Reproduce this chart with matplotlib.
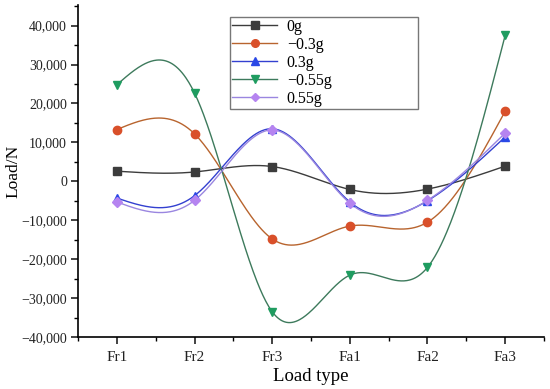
import numpy as np
import matplotlib
matplotlib.use("Agg")
from matplotlib import pyplot as plt
from matplotlib.ticker import FuncFormatter, MultipleLocator

plt.rcParams['font.family'] = ['Liberation Serif', 'DejaVu Serif']

# Data
categories = ['Fr1', 'Fr2', 'Fr3', 'Fa1', 'Fa2', 'Fa3']
load_0g = [2600, 2400, 3800, -2100, -2000, 3900]
load_m03g = [13300, 12200, -14800, -11500, -10500, 18000]
load_03g = [-4300, -3700, 13500, -5300, -5000, 11400]
load_m055g = [24800, 22700, -33500, -24100, -22100, 37500]
load_055g = [-5300, -4900, 13200, -5600, -4900, 12400]


def natural_spline(x, y, xs):
    # natural cubic spline, like Origin's spline connection
    x = np.asarray(x, float)
    y = np.asarray(y, float)
    n = len(x)
    h = np.diff(x)
    A = np.zeros((n, n))
    b = np.zeros(n)
    A[0, 0] = 1
    A[-1, -1] = 1
    for i in range(1, n - 1):
        A[i, i - 1] = h[i - 1]
        A[i, i] = 2 * (h[i - 1] + h[i])
        A[i, i + 1] = h[i]
        b[i] = 3 * ((y[i + 1] - y[i]) / h[i] - (y[i] - y[i - 1]) / h[i - 1])
    c = np.linalg.solve(A, b)
    out = np.zeros_like(xs)
    for k, xv in enumerate(xs):
        i = min(np.searchsorted(x, xv, side='right') - 1, n - 2)
        i = max(i, 0)
        dx = xv - x[i]
        bi = (y[i + 1] - y[i]) / h[i] - h[i] * (2 * c[i] + c[i + 1]) / 3
        di = (c[i + 1] - c[i]) / (3 * h[i])
        out[k] = y[i] + bi * dx + c[i] * dx ** 2 + di * dx ** 3
    return out


series = [
    ('0g', load_0g, 's', '#3c3c3c', '#3c3c3c'),
    ('\u22120.3g', load_m03g, 'o', '#b8642e', '#d9502a'),
    ('0.3g', load_03g, '^', '#3340d0', '#2a48e6'),
    ('\u22120.55g', load_m055g, 'v', '#3d7a5c', '#1f9c60'),
    ('0.55g', load_055g, 'D', '#9a86e0', '#b584f0'),
]

x = np.arange(1, len(categories) + 1)
xs = np.linspace(1, len(categories), 400)

fig = plt.figure(figsize=(5.5, 3.89), dpi=100)
ax = fig.add_axes([78 / 550, 1 - 337 / 389, (544 - 78) / 550, (337 - 5) / 389])

for label, vals, mk, lc, mc in series:
    ax.plot(xs, natural_spline(x, vals, xs), color=lc, lw=1.0, zorder=2)
    ax.plot(x, vals, linestyle='none', marker=mk, color=mc,
            markersize=6 if mk != 'D' else 5, zorder=3)
    ax.plot([], [], color=lc, lw=1.0, marker=mk, markerfacecolor=mc,
            markeredgecolor=mc, markersize=5.5 if mk != 'D' else 4.5, label=label)

ax.set_xlim(0.5, 6.5)
ax.set_ylim(-40000, 45300)
ax.set_xticks(x)
ax.set_xticklabels(categories)
ax.xaxis.set_minor_locator(MultipleLocator(0.5))
ax.yaxis.set_major_locator(MultipleLocator(10000))
ax.yaxis.set_minor_locator(MultipleLocator(5000))
ax.yaxis.set_major_formatter(FuncFormatter(
    lambda v, p: ('\u2212' if v < 0 else '') + f'{abs(int(v)):,}'))

for s in ['top', 'right']:
    ax.spines[s].set_visible(False)
for s in ['left', 'bottom']:
    ax.spines[s].set_linewidth(1.2)
ax.tick_params(which='major', direction='out', length=5, width=1.2,
               labelsize=10, pad=3, colors='#222222')
ax.tick_params(axis='x', which='major', labelsize=11, pad=5)
ax.tick_params(which='minor', direction='out', length=3, width=1.0)

ax.set_xlabel('Load type', fontsize=13.5, labelpad=3)
ax.set_ylabel('Load/N', fontsize=12.5)
ax.yaxis.set_label_coords((21 - 78) / 466, 0.5)

leg = ax.legend(loc='upper left',
                bbox_to_anchor=((230 - 78) / 466, 1 - 15 / 332, (418 - 230) / 466, 0.01),
                mode='expand', fontsize=11.5, frameon=True, fancybox=False,
                edgecolor='#555555', handlelength=2.8, labelspacing=0.12,
                borderpad=0.15, handletextpad=0.6, borderaxespad=0)
leg.get_frame().set_linewidth(1.0)

fig.savefig('out.png', dpi=100)
